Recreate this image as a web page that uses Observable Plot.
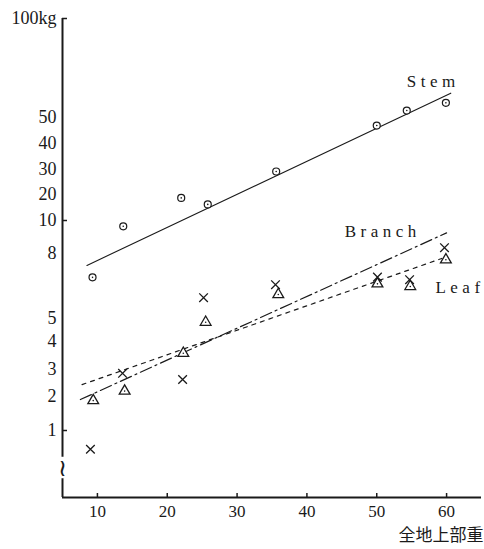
<!DOCTYPE html>
<html><head><meta charset="utf-8">
<script src="https://cdn.jsdelivr.net/npm/d3@7"></script>
<script src="https://cdn.jsdelivr.net/npm/@observablehq/plot@0.6"></script>
<style>body{margin:0;background:#fff} #chart{width:484px;height:549px}</style>
</head><body><div id="chart"></div>
<script>
// tick labels
const yTicks = [1, 2, 3, 4, 5, 8, 10, 20, 30, 40, 50, 100];
const yMarkedTicks = [1, 10, 100];
const xTicks = [10, 20, 30, 40, 50, 60];
const xTitle = "全地上部重";

// observations (total above-ground weight vs organ weight)
const stemX   = [9.3, 13.7, 22.0, 25.8, 35.6, 50.0, 54.3, 59.9];
const stemY   = [6.9, 9.65, 18.7, 16.2, 29.2, 46.9, 53.5, 57.4];
const branchX = [9.0, 13.6, 22.2, 25.2, 35.5, 50.1, 54.7, 59.7];
const branchY = [0.72, 2.86, 2.63, 5.96, 6.56, 6.91, 6.79, 8.35];
const leafX   = [9.4, 13.9, 22.3, 25.5, 35.9, 50.1, 54.8, 59.9];
const leafY   = [1.88, 2.20, 3.58, 4.84, 6.11, 6.60, 6.48, 7.71];

// fitted lines (endpoints)
const stemFitX   = [8.5, 60.6];
const stemFitY   = [7.45, 62.3];
const branchFitX = [7.56, 60.0];
const branchFitY = [1.91, 9.25];
const leafFitX   = [7.8, 59.3];
const leafFitY   = [2.44, 7.77];

// series labels
const labelText = ["Stem", "Branch", "Leaf"];
const labelX = [54.3, 45.4, 58.4];
const labelY = [68.2, 9.33, 6.43];

const zip = (xs, ys) => xs.map((x, i) => ({x, y: ys[i]}));
const stem = zip(stemX, stemY), branch = zip(branchX, branchY), leaf = zip(leafX, leafY);
const stemFit = zip(stemFitX, stemFitY), branchFit = zip(branchFitX, branchFitY), leafFit = zip(leafFitX, leafFitY);
const labels = labelText.map((t, i) => ({t, x: labelX[i], y: labelY[i]}));
const axisSegments = [{y1: 0.6, y2: 100}, {y1: 0, y2: 0.28}];

const W = 484, H = 549, mt = 10, mb = 52, ml = 62, mr = 3;
const ink = "#1a1a1a";
const serif = "Liberation Serif";

const chart = Plot.plot({
  width: W, height: H,
  marginTop: mt, marginBottom: mb, marginLeft: ml, marginRight: mr,
  style: {fontFamily: serif, fontSize: "18px", color: ink, background: "#fff"},
  x: {domain: [5, 65]},
  y: {type: "linear",
      domain: [0, ...yTicks],
      range: [497, 430, 396, 369, 341, 318, 253, 220, 194, 169, 143, 117, 18]},
  marks: [
    Plot.ruleY([0], {stroke: ink, strokeWidth: 2}),
    Plot.ruleX(axisSegments, {x: 5, y1: "y1", y2: "y2", stroke: ink, strokeWidth: 2}),
    Plot.text(["≀"], {x: 5, y: 0.44, text: d => d, fontSize: 24, fontFamily: "DejaVu Sans", fill: ink}),
    Plot.tickX(xTicks, {x: d => d, insetTop: (H - mt - mb) - 4, stroke: ink, strokeWidth: 1.5}),
    Plot.tickY(yMarkedTicks, {y: d => d, insetRight: (W - ml - mr) - 5, stroke: ink, strokeWidth: 1.5}),
    Plot.axisY({ticks: yTicks, tickSize: 0, tickPadding: 6, label: null,
      tickFormat: d => d === 100 ? "100kg" : String(d), fontSize: 18, fontFamily: serif}),
    Plot.axisX({ticks: xTicks, tickSize: 0, tickPadding: 7, label: null, fontSize: 17, fontFamily: serif}),
    Plot.text([xTitle], {frameAnchor: "bottom-right", text: d => d, dy: 43, dx: 2, textAnchor: "end",
      fontSize: 17, fontFamily: "Noto Sans CJK JP", fill: ink}),
    Plot.line(stemFit, {x: "x", y: "y", stroke: ink, strokeWidth: 1.1}),
    Plot.line(branchFit, {x: "x", y: "y", stroke: ink, strokeWidth: 1.2, strokeDasharray: "12,4,2,4"}),
    Plot.line(leafFit, {x: "x", y: "y", stroke: ink, strokeWidth: 1.2, strokeDasharray: "4,5"}),
    Plot.dot(stem, {x: "x", y: "y", r: 3.5, stroke: ink, strokeWidth: 1.2, fill: "#fff"}),
    Plot.dot(stem, {x: "x", y: "y", r: 0.8, fill: ink}),
    Plot.dot(leaf, {x: "x", y: "y", r: 4, symbol: "triangle", stroke: ink, strokeWidth: 1.3, fill: "#fff"}),
    Plot.dot(leaf, {x: "x", y: "y", r: 0.8, fill: ink}),
    Plot.dot(branch, {x: "x", y: "y", r: 4, symbol: "times", stroke: ink, strokeWidth: 1.3}),
    Plot.text(labels, {x: "x", y: "y", text: "t", textAnchor: "start", fontSize: 17, fontFamily: serif, fill: ink})
  ]
});
d3.select(chart).selectAll("text")
  .filter(function() { return labelText.includes(this.textContent); })
  .style("letter-spacing", "4.5px");
document.getElementById("chart").appendChild(chart);
</script>
</body></html>
